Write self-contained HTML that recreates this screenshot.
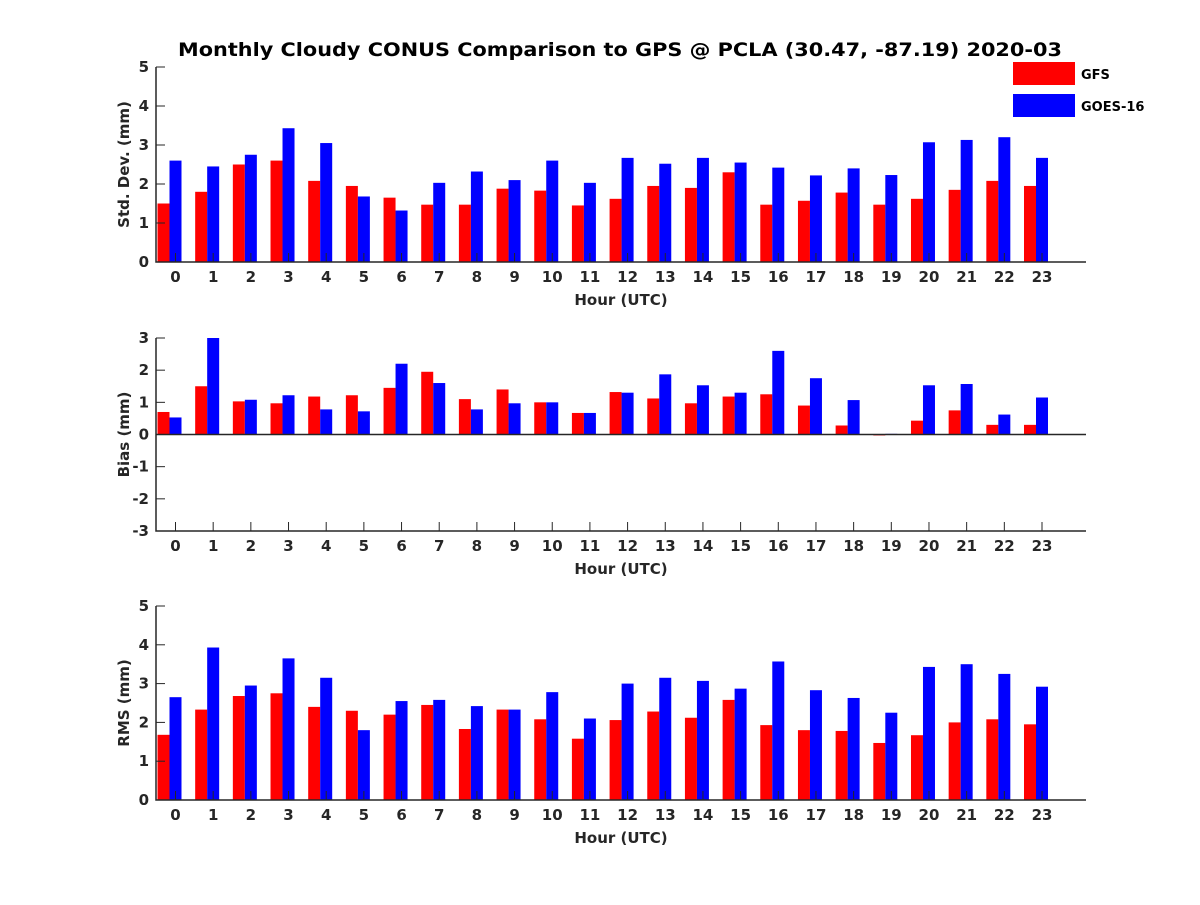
<!DOCTYPE html>
<html><head><meta charset="utf-8"><style>
body{margin:0;background:#fff}
svg text{font-family:"DejaVu Sans","Liberation Sans",sans-serif;font-weight:bold;fill:#262626}
</style></head><body>
<svg id="chart" width="1200" height="900" xmlns="http://www.w3.org/2000/svg">
<rect width="1200" height="900" fill="#fff"/>
<text x="620" y="56" font-size="19" text-anchor="middle" textLength="884" lengthAdjust="spacingAndGlyphs" style="fill:#000">Monthly Cloudy CONUS Comparison to GPS @ PCLA (30.47, -87.19) 2020-03</text>
<g>
<rect x="1013" y="62" width="62" height="23" fill="#ff0000"/>
<text x="1081" y="79" font-size="13" style="fill:#000">GFS</text>
<rect x="1013" y="94" width="62" height="23" fill="#0000ff"/>
<text x="1081" y="111" font-size="13" style="fill:#000">GOES-16</text>
</g>
</svg>
<script>
const hours=[0,1,2,3,4,5,6,7,8,9,10,11,12,13,14,15,16,17,18,19,20,21,22,23];
const stdGfs=[1.5,1.8,2.5,2.6,2.08,1.95,1.65,1.47,1.47,1.88,1.83,1.45,1.62,1.95,1.9,2.3,1.47,1.57,1.78,1.47,1.62,1.85,2.08,1.95];
const stdGoes=[2.6,2.45,2.75,3.43,3.05,1.68,1.32,2.03,2.32,2.1,2.6,2.03,2.67,2.52,2.67,2.55,2.42,2.22,2.4,2.23,3.07,3.13,3.2,2.67];
const biasGfs=[0.7,1.5,1.03,0.97,1.18,1.22,1.45,1.95,1.1,1.4,1.0,0.67,1.32,1.12,0.97,1.18,1.25,0.9,0.28,-0.03,0.43,0.75,0.3,0.3];
const biasGoes=[0.53,3.0,1.08,1.22,0.78,0.72,2.2,1.6,0.78,0.97,1.0,0.67,1.3,1.87,1.53,1.3,2.6,1.75,1.07,0.02,1.53,1.57,0.62,1.15];
const rmsGfs=[1.68,2.33,2.68,2.75,2.4,2.3,2.2,2.45,1.83,2.33,2.08,1.58,2.06,2.28,2.12,2.58,1.93,1.8,1.78,1.47,1.67,2.0,2.08,1.95];
const rmsGoes=[2.65,3.93,2.95,3.65,3.15,1.8,2.55,2.58,2.42,2.33,2.78,2.1,3.0,3.15,3.07,2.87,3.57,2.83,2.63,2.25,3.43,3.5,3.25,2.92];
const stdTicks=[0,1,2,3,4,5];
const biasTicks=[-3,-2,-1,0,1,2,3];
const rmsTicks=[0,1,2,3,4,5];
const NS="http://www.w3.org/2000/svg";
const svg=document.getElementById('chart');
function mk(tag,attrs,parent){const e=document.createElementNS(NS,tag);for(const k in attrs)e.setAttribute(k,attrs[k]);(parent||svg).appendChild(e);return e;}
const x0=156,x1=1086;
function xs(h){return 175.5+h*(1042-175.5)/23;}
function panel(name,top,bottom,ymin,ymax,ticks,gfs,goes,ylabel){
  const g=mk('g',{});
  
  
  const ys=v=>bottom-(v-ymin)/(ymax-ymin)*(bottom-top);
  const bw=12;
  hours.forEach((h,i)=>{
    const c=xs(h)-6;
    [[gfs[i],'#ff0000',c-bw,'gfs'],[goes[i],'#0000ff',c,'goes']].forEach(([v,col,bx,s])=>{
      const y0=ys(0),y1=ys(v);
      const r=mk('rect',{x:bx,y:Math.min(y0,y1),width:bw,height:Math.max(Math.abs(y1-y0),0.5),fill:col},g);
      
      
    });
  });
  if(ymin<0){const z=mk('line',{x1:x0,x2:x1,y1:ys(0),y2:ys(0),stroke:'#262626','stroke-width':1.5},g);
    }
  const ax=mk('path',{d:`M${x0},${top} V${bottom} H${x1}`,fill:'none',stroke:'#262626','stroke-width':1.5},g);
  
  
  ticks.forEach(t=>{
    const y=ys(t);
    mk('line',{x1:x0,x2:x0+9,y1:y,y2:y,stroke:'#262626','stroke-width':1},g);
    const tl=mk('text',{x:x0-7,y:y+5,'font-size':15,'text-anchor':'end'},g);
    tl.textContent=t;
    
    
  });
  hours.forEach(h=>{
    const x=xs(h);
    mk('line',{x1:x,x2:x,y1:bottom,y2:bottom-9,stroke:'#262626','stroke-width':1},g);
    const tl=mk('text',{x:x,y:bottom+20,'font-size':15,'text-anchor':'middle'},g);
    tl.textContent=h;
    
    
  });
  const xl=mk('text',{x:621,y:bottom+43,'font-size':15,'text-anchor':'middle'},g);
  xl.textContent='Hour (UTC)';
  
  
  const cy=(top+bottom)/2;
  const yl=mk('text',{x:0,y:0,'font-size':15,'text-anchor':'middle',transform:`translate(129,${cy}) rotate(-90)`},g);
  yl.textContent=ylabel;
  
  
}
panel('std',67,262,0,5,stdTicks,stdGfs,stdGoes,'Std. Dev. (mm)');
panel('bias',338,531,-3,3,biasTicks,biasGfs,biasGoes,'Bias (mm)');
panel('rms',606,800,0,5,rmsTicks,rmsGfs,rmsGoes,'RMS (mm)');
</script>
</body></html>
